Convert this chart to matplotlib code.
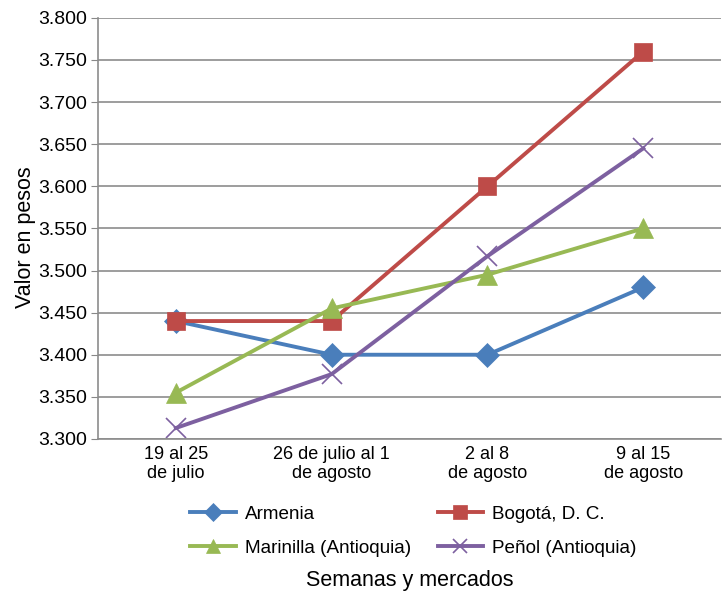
import matplotlib
matplotlib.use("Agg")
import matplotlib.pyplot as plt
from matplotlib.ticker import FuncFormatter, MultipleLocator

plt.rcParams["font.family"] = ["Liberation Sans", "DejaVu Sans"]

SEMANAS = ["19 al 25\nde julio", "26 de julio al 1\nde agosto",
           "2 al 8\nde agosto", "9 al 15\nde agosto"]
ARMENIA = [3440, 3400, 3400, 3480]
BOGOTA = [3440, 3440, 3600, 3760]
MARINILLA = [3355, 3455, 3495, 3550]
PENOL = [3313, 3377, 3517, 3645]

SERIES = [
    ("Armenia", ARMENIA, "#4A7EBB", "D", 12),
    ("Bogotá, D. C.", BOGOTA, "#BE4B48", "s", 13),
    ("Marinilla (Antioquia)", MARINILLA, "#98B954", "^", 14),
    ("Peñol (Antioquia)", PENOL, "#7D60A0", "x", 14),
]

fig = plt.figure(figsize=(7.23, 5.94), dpi=100)
ax = fig.add_axes([0.1355, 0.261, 0.862, 0.709])

x = range(len(SEMANAS))
handles = {}
for name, vals, color, mk, ms in SERIES:
    h, = ax.plot(x, vals, color=color, linewidth=2.8, marker=mk, markersize=ms,
                 markeredgewidth=1.2 if mk == "x" else 0.5,
                 markeredgecolor=color, label=name)
    handles[name] = h

ax.set_xlim(-0.5, len(SEMANAS) - 0.5)
ax.set_ylim(3300, 3800)
ax.yaxis.set_major_locator(MultipleLocator(50))
ax.yaxis.set_major_formatter(FuncFormatter(lambda v, p: f"{v:,.0f}".replace(",", ".")))
ax.set_xticks(list(x))
ax.set_xticklabels(SEMANAS, fontsize=13, linespacing=1.15)
ax.tick_params(axis="y", labelsize=14, length=5, color="#888888", pad=3)
ax.tick_params(axis="x", length=0, pad=5)

ax.grid(axis="y", color="#8c8c8c", linewidth=1.2)
ax.set_axisbelow(True)
for side in ["top", "right"]:
    ax.spines[side].set_visible(False)
for side in ["left", "bottom"]:
    ax.spines[side].set_color("#8c8c8c")
    ax.spines[side].set_linewidth(1.2)

ax.set_ylabel("Valor en pesos", fontsize=15.5)
ax.yaxis.set_label_coords(-0.1, 0.48)

# legend filled row by row: Armenia, Bogotá / Marinilla, Peñol
order = ["Armenia", "Marinilla (Antioquia)", "Bogotá, D. C.", "Peñol (Antioquia)"]
fig.legend(handles=[handles[k] for k in order], loc="center",
           bbox_to_anchor=(0.572, 0.106), markerscale=0.75,
           ncol=2, frameon=False, fontsize=13.6, handlelength=2.4,
           handletextpad=0.5, columnspacing=1.4, labelspacing=0.9)
fig.text(0.567, 0.023, "Semanas y mercados", ha="center", va="center", fontsize=15.5)

fig.savefig("out.png", dpi=100)
